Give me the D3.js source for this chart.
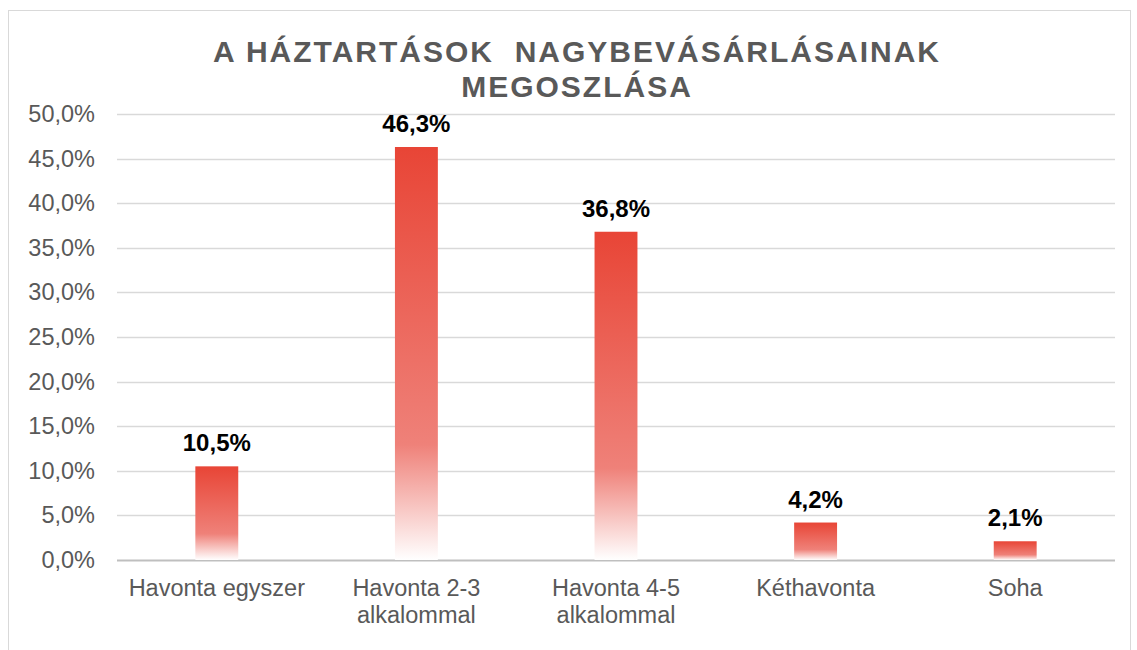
<!DOCTYPE html>
<html lang="en">
<head>
<meta charset="UTF-8">
<title>Nagybevásárlások megoszlása</title>
<script src="https://d3js.org/d3.v7.min.js"></script>
<style>
  body { margin: 0; background: #fff; }
  text { font-family: "Liberation Sans", Arial, sans-serif; }
</style>
</head>
<body>
<svg></svg>
<script>
const categories = [
  ['Havonta egyszer'],
  ['Havonta 2-3', 'alkalommal'],
  ['Havonta 4-5', 'alkalommal'],
  ['Kéthavonta'],
  ['Soha']
];
const values = [10.5, 46.3, 36.8, 4.2, 2.1];
const yTicks = [0, 5, 10, 15, 20, 25, 30, 35, 40, 45, 50];
const titleLines = ['A HÁZTARTÁSOK  NAGYBEVÁSÁRLÁSAINAK', 'MEGOSZLÁSA'];

const width = 1137, height = 650;
const margin = {top: 114, right: 22, bottom: 90, left: 117};

const svg = d3.select('svg')
  .attr('width', width)
  .attr('height', height);

// chart frame
svg.append('rect')
  .attr('x', 8.5).attr('y', 10.5)
  .attr('width', 1122).attr('height', 660)
  .attr('fill', 'none')
  .attr('stroke', '#d9d9d9');

const defs = svg.append('defs');
const grad = defs.append('linearGradient')
  .attr('id', 'barGrad')
  .attr('x1', 0).attr('y1', 0).attr('x2', 0).attr('y2', 1);
grad.append('stop').attr('offset', '0%').attr('stop-color', '#e84536');
grad.append('stop').attr('offset', '72%').attr('stop-color', '#ef8179');
grad.append('stop').attr('offset', '100%').attr('stop-color', '#ffffff');

const x = d3.scaleBand()
  .domain(d3.range(categories.length))
  .range([margin.left, width - margin.right])
  .paddingInner(0.785)
  .paddingOuter(0.3925);

const y = d3.scaleLinear()
  .domain([0, 50])
  .range([height - margin.bottom, margin.top]);

// gridlines
svg.append('g')
  .selectAll('line')
  .data(yTicks)
  .enter()
  .append('line')
  .attr('x1', margin.left)
  .attr('x2', width - margin.right)
  .attr('y1', d => Math.round(y(d)) + 0.5)
  .attr('y2', d => Math.round(y(d)) + 0.5)
  .attr('stroke', d => d === 0 ? '#bfbfbf' : '#d9d9d9')
  .attr('stroke-width', d => d === 0 ? 1.8 : 1.4);

// y axis labels
const yAxis = d3.axisLeft(y)
  .tickValues(yTicks)
  .tickSize(0)
  .tickPadding(0)
  .tickFormat(d => d.toFixed(1).replace('.', ',') + '%');

const yg = svg.append('g')
  .attr('transform', `translate(${margin.left - 22},0)`)
  .call(yAxis);
yg.select('.domain').remove();
yg.selectAll('text')
  .attr('font-size', 23.5)
  .attr('fill', '#595959')
  .attr('font-family', '"Liberation Sans", Arial, sans-serif');

// bars
svg.append('g')
  .selectAll('rect')
  .data(values)
  .enter()
  .append('rect')
  .attr('x', (d, i) => x(i))
  .attr('width', x.bandwidth())
  .attr('y', d => y(d))
  .attr('height', d => y(0) - y(d))
  .attr('fill', 'url(#barGrad)');

// data labels
svg.append('g')
  .selectAll('text')
  .data(values)
  .enter()
  .append('text')
  .attr('x', (d, i) => x(i) + x.bandwidth() / 2)
  .attr('y', d => y(d) - 15)
  .attr('text-anchor', 'middle')
  .attr('font-size', 24)
  .attr('font-weight', 'bold')
  .attr('fill', '#000')
  .text(d => d.toFixed(1).replace('.', ',') + '%');

// category labels
const catG = svg.append('g')
  .selectAll('text')
  .data(categories)
  .enter()
  .append('text')
  .attr('x', (d, i) => x(i) + x.bandwidth() / 2)
  .attr('y', y(0) + 36)
  .attr('text-anchor', 'middle')
  .attr('font-size', 23.5)
  .attr('fill', '#595959');

catG.selectAll('tspan')
  .data(d => d)
  .enter()
  .append('tspan')
  .attr('x', function () { return d3.select(this.parentNode).attr('x'); })
  .attr('dy', (d, i) => i === 0 ? 0 : 27)
  .text(d => d);

// title
svg.append('text')
  .attr('x', 577)
  .attr('y', 62)
  .attr('text-anchor', 'middle')
  .attr('font-size', 30)
  .attr('font-weight', 'bold')
  .attr('fill', '#595959')
  .attr('letter-spacing', 2)
  .style('white-space', 'pre')
  .selectAll('tspan')
  .data(titleLines)
  .enter()
  .append('tspan')
  .attr('x', 577)
  .attr('dy', (d, i) => i === 0 ? 0 : 35)
  .text(d => d);
</script>
</body>
</html>
